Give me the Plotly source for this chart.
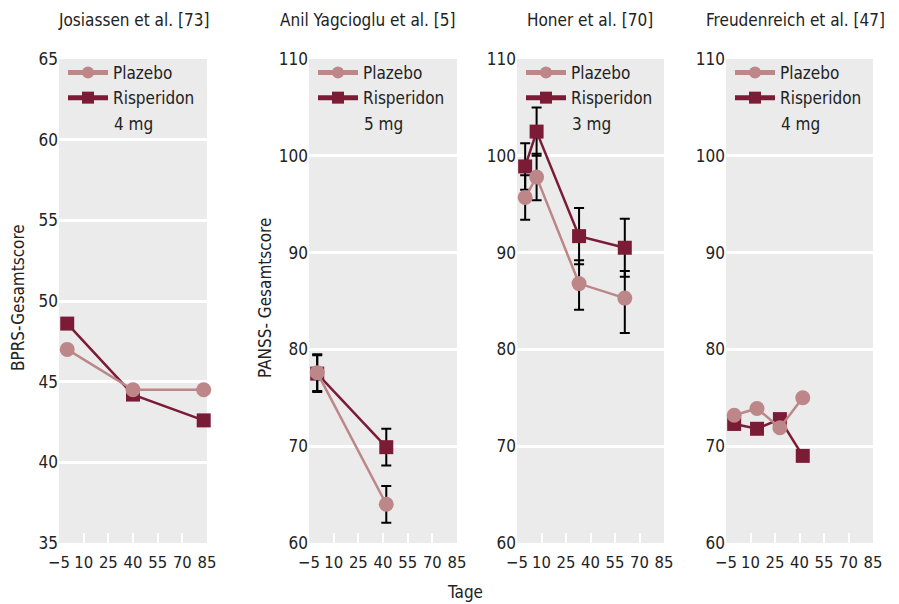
import plotly.graph_objects as go

# ---------------- data ----------------
titles = ["Josiassen et al. [73]", "Anil Yagcioglu et al. [5]", "Honer et al. [70]", "Freudenreich et al. [47]"]
doses = ["4 mg", "5 mg", "3 mg", "4 mg"]
y_titles = ["BPRS-Gesamtscore", "PANSS- Gesamtscore", "", ""]
x_title = "Tage"
x_ticks = [-5, 10, 25, 40, 55, 70, 85]

jos_x = [0, 40, 83]
jos_plazebo = [47.0, 44.5, 44.5]
jos_risp = [48.6, 44.2, 42.6]

anil_x = [0, 42]
anil_plazebo = [77.6, 64.0]
anil_plazebo_err = [1.9, 1.9]
anil_risp = [77.5, 69.9]
anil_risp_err = [1.9, 1.9]

honer_x = [0, 7, 33, 61]
honer_plazebo = [95.7, 97.8, 86.8, 85.3]
honer_plazebo_err_plus = [2.3, 2.4, 2.4, 2.8]
honer_plazebo_err_minus = [2.3, 2.4, 2.7, 3.6]
honer_risp = [98.9, 102.5, 91.7, 90.5]
honer_risp_err = [2.4, 2.5, 2.9, 3.0]

freud_x = [0, 14, 28, 42]
freud_plazebo = [73.2, 73.9, 71.9, 75.0]
freud_risp = [72.3, 71.8, 72.8, 69.0]

y_ranges = [[35, 65], [60, 110], [60, 110], [60, 110]]
y_dticks = [5, 10, 10, 10]

# ---------------- style ----------------
C_PLA = "#bd8688"
C_RIS = "#7b1c37"
FONT = "Liberation Sans Narrow, DejaVu Sans Condensed, Roboto, sans-serif"
TXT = "#222222"
W, H = 899, 604
panel_px = [(59, 207), (309, 457), (517, 664), (726, 873)]
top_px, bot_px = 59, 543

fig = go.Figure()

series = [
    (jos_x, jos_plazebo, None, None, jos_risp, None),
    (anil_x, anil_plazebo, anil_plazebo_err, anil_plazebo_err, anil_risp, anil_risp_err),
    (honer_x, honer_plazebo, honer_plazebo_err_plus, honer_plazebo_err_minus, honer_risp, honer_risp_err),
    (freud_x, freud_plazebo, None, None, freud_risp, None),
]

def err(plus, minus):
    if plus is None:
        return None
    return dict(type="data", array=plus, arrayminus=minus, symmetric=False,
                color="black", thickness=2, width=5)

for i, (xs, pla, pe_p, pe_m, ris, re) in enumerate(series):
    ax = "" if i == 0 else str(i + 1)
    lg = "legend" if i == 0 else f"legend{i+1}"
    fig.add_trace(go.Scatter(
        x=xs, y=ris, name="Risperidon", mode="lines+markers",
        line=dict(color=C_RIS, width=2.5),
        marker=dict(symbol="square", size=14, color=C_RIS),
        error_y=err(re, re), xaxis="x" + ax, yaxis="y" + ax,
        legend=lg, legendrank=2, cliponaxis=False))
    fig.add_trace(go.Scatter(
        x=xs, y=pla, name="Plazebo", mode="lines+markers",
        line=dict(color=C_PLA, width=2.5),
        marker=dict(symbol="circle", size=15, color=C_PLA),
        error_y=err(pe_p, pe_m), xaxis="x" + ax, yaxis="y" + ax,
        legend=lg, legendrank=1, cliponaxis=False))

layout = dict(
    width=W, height=H, margin=dict(l=0, r=0, t=0, b=0, autoexpand=False),
    paper_bgcolor="white", plot_bgcolor="#ebebeb",
    font=dict(family=FONT, size=17, color=TXT),
    showlegend=True,
)
annotations = []
title_cx = [133, 367, 590, 795]
ytitle_x = [18, 265]

def ann(text, xp, yp, xanchor="center", angle=0):
    return dict(text=text, x=xp / W, y=1 - yp / H, xref="paper", yref="paper",
                xanchor=xanchor, yanchor="middle", textangle=angle, showarrow=False,
                font=dict(size=17, color=TXT))

for i in range(4):
    ax = "" if i == 0 else str(i + 1)
    x0, x1 = panel_px[i]
    layout["xaxis" + ax] = dict(
        domain=[x0 / W, x1 / W], range=[-5, 85], tickvals=x_ticks,
        ticks="inside", ticklen=10, tickwidth=2, tickcolor="white",
        showgrid=False, zeroline=False, showline=False, automargin=False,
        ticklabelstandoff=7,
        tickfont=dict(size=16.5, color=TXT), anchor="y" + ax, fixedrange=True)
    layout["yaxis" + ax] = dict(
        domain=[1 - bot_px / H, 1 - top_px / H], range=y_ranges[i], dtick=y_dticks[i],
        showgrid=True, gridcolor="white", gridwidth=3, zeroline=False, showline=False,
        automargin=False, ticks="", tickfont=dict(size=17, color=TXT),
        anchor="x" + ax, fixedrange=True)
    lg = "legend" if i == 0 else f"legend{i+1}"
    layout[lg] = dict(
        x=(x0 + 4) / W, y=1 - (top_px - 4) / H, xanchor="left", yanchor="top",
        bgcolor="rgba(0,0,0,0)", itemsizing="constant", itemwidth=40,
        font=dict(size=17, color=TXT), tracegroupgap=0)
    annotations.append(ann(titles[i], title_cx[i], 20))
    annotations.append(ann(doses[i], x0 + 53, 124, xanchor="left"))
    if y_titles[i]:
        annotations.append(ann(y_titles[i], ytitle_x[i], 298, angle=-90))
annotations.append(ann(x_title, 465, 592))
layout["annotations"] = annotations
fig.update_layout(**layout)
fig.write_html("out.html", post_script="document.body.style.margin='0';",
               config={"displayModeBar": False})
